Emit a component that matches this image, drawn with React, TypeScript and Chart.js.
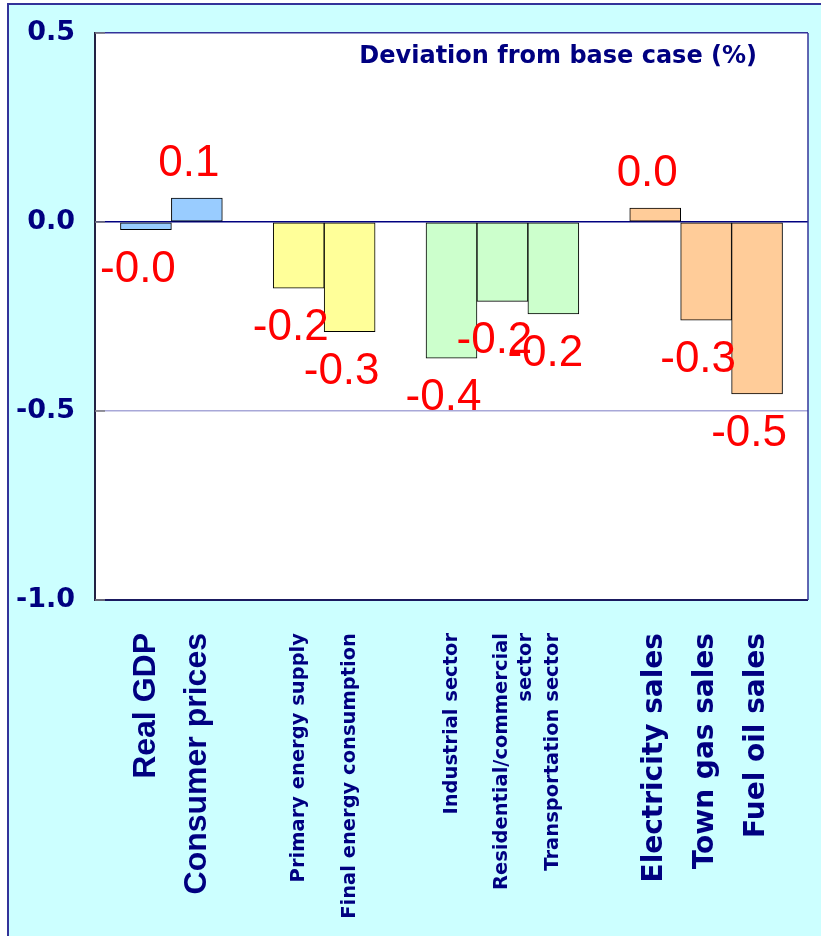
import React, { useEffect, useRef } from "react";
import { Chart, registerables } from "chart.js";

Chart.register(...registerables);

// ---- data ----
const categories: (string | string[])[] = [
  "",
  "Real GDP",
  "Consumer prices",
  "",
  "Primary energy supply",
  "Final energy consumption",
  "",
  "Industrial sector",
  ["Residential/commercial", "sector"],
  "Transportation sector",
  "",
  "Electricity sales",
  "Town gas sales",
  "Fuel oil sales",
  "",
];

const deviation: (number | null)[] = [
  null, -0.02, 0.063, null, -0.175, -0.29, null, -0.36, -0.21, -0.243, null, 0.037, -0.26, -0.455, null,
];

const barColors: string[] = [
  "#ffffff", "#99CCFF", "#99CCFF", "#ffffff", "#FFFF99", "#FFFF99", "#ffffff",
  "#CCFFCC", "#CCFFCC", "#CCFFCC", "#ffffff", "#FFCC99", "#FFCC99", "#FFCC99", "#ffffff",
];

const yMin = -1.0;
const yMax = 0.5;
const yStep = 0.5;
const chartTitle = "Deviation from base case (%)";

const bigArialLabels = ["Real GDP", "Consumer prices"];
const bigLabels = ["Electricity sales", "Town gas sales", "Fuel oil sales"];

const NAVY = "#000080";

const panelPlugin = {
  id: "panelPlugin",
  beforeDraw(chart: any) {
    const { ctx, width, height, chartArea: a } = chart;
    ctx.save();
    ctx.fillStyle = "#ffffff";
    ctx.fillRect(0, 0, width, height);
    ctx.fillStyle = "#CCFFFF";
    ctx.fillRect(9, 5, width - 9, height - 5);
    ctx.strokeStyle = "#333399";
    ctx.lineWidth = 2;
    ctx.beginPath();
    ctx.moveTo(8, height);
    ctx.lineTo(8, 4);
    ctx.lineTo(width, 4);
    ctx.stroke();
    ctx.fillStyle = "#ffffff";
    ctx.fillRect(a.left, a.top, a.right - a.left, a.bottom - a.top);
    ctx.restore();
  },
  afterDraw(chart: any) {
    const { ctx, chartArea: a } = chart;
    ctx.save();
    ctx.strokeStyle = "#333399";
    ctx.lineWidth = 1.5;
    ctx.beginPath();
    ctx.moveTo(a.right, a.top);
    ctx.lineTo(a.right, a.bottom);
    ctx.stroke();
    // short inward tick marks on the value axis
    const ys = chart.scales.y;
    ctx.strokeStyle = "#808080";
    ctx.lineWidth = 1.5;
    ys.ticks.forEach((t: any) => {
      const py = ys.getPixelForValue(t.value);
      ctx.beginPath();
      ctx.moveTo(a.left, py);
      ctx.lineTo(a.left + 10, py);
      ctx.stroke();
    });
    ctx.fillStyle = NAVY;
    ctx.font = 'bold 24px "DejaVu Sans"';
    ctx.textAlign = "right";
    ctx.textBaseline = "alphabetic";
    ctx.fillText(chartTitle, a.right - 51, a.top + 30);
    ctx.restore();
  },
};

const valueLabelPlugin = {
  id: "valueLabelPlugin",
  afterDatasetsDraw(chart: any) {
    const { ctx } = chart;
    const meta = chart.getDatasetMeta(0);
    ctx.save();
    ctx.fillStyle = "#FF0000";
    ctx.font = '44px "Liberation Sans"';
    ctx.textAlign = "center";
    ctx.textBaseline = "alphabetic";
    meta.data.forEach((bar: any, i: number) => {
      const v = deviation[i];
      if (v === null || v === undefined) return;
      const text = v.toFixed(1);
      const x = bar.x - 8;
      const y = v >= 0 ? bar.y - 22 : bar.y + 52;
      ctx.fillText(text, x, y);
    });
    ctx.restore();
  },
};

export default function App() {
  const canvasRef = useRef<HTMLCanvasElement | null>(null);

  useEffect(() => {
    if (!canvasRef.current) return;
    const chart = new Chart(canvasRef.current, {
      type: "bar",
      data: {
        labels: categories,
        datasets: [
          {
            data: deviation,
            backgroundColor: barColors,
            borderColor: "#000000",
            borderWidth: 1,
            borderSkipped: false,
            barPercentage: 1,
            categoryPercentage: 1,
          },
        ],
      },
      options: {
        animation: false,
        responsive: false,
        devicePixelRatio: 1,
        layout: { padding: { top: 33, right: 13, left: 0, bottom: 0 } },
        plugins: {
          legend: { display: false },
          tooltip: { enabled: false },
          title: { display: false },
        },
        scales: {
          x: {
            type: "category",
            offset: false,
            grid: { display: false, drawTicks: false },
            border: { display: false },
            afterFit: (scale: any) => {
              scale.height = 336;
              scale.paddingLeft = 0;
              scale.paddingRight = 0;
              scale.paddingTop = 0;
              scale.paddingBottom = 0;
            },
            ticks: {
              autoSkip: false,
              minRotation: 90,
              maxRotation: 90,
              padding: 33,
              color: NAVY,
              font: (c: any) => {
                const lab = categories[c.index];
                const s = Array.isArray(lab) ? lab.join(" ") : lab;
                if (bigArialLabels.includes(s)) return { family: "Liberation Sans", size: 32, weight: "bold" };
                if (bigLabels.includes(s)) return { family: "DejaVu Sans", size: 28, weight: "bold" };
                return { family: "DejaVu Sans", size: 19.5, weight: "bold" };
              },
            },
          },
          y: {
            min: yMin,
            max: yMax,
            afterFit: (scale: any) => {
              scale.width = 95;
              scale.paddingLeft = 0;
              scale.paddingRight = 0;
              scale.paddingTop = 0;
              scale.paddingBottom = 0;
            },
            border: { display: true, color: "#222244", width: 2 },
            grid: {
              drawTicks: false,
              color: (c: any) => {
                const v = c.tick ? c.tick.value : 0;
                if (Math.abs(v) < 1e-9) return NAVY;
                if (Math.abs(v - yMax) < 1e-9) return "#333399";
                if (Math.abs(v - yMin) < 1e-9) return "#1a1a60";
                return "#a8a8d8";
              },
              lineWidth: (c: any) => {
                const v = c.tick ? c.tick.value : 0;
                if (Math.abs(v - yMin) < 1e-9) return 2;
                return 1.5;
              },
            },
            ticks: {
              stepSize: yStep,
              padding: 20,
              color: NAVY,
              font: { family: "DejaVu Sans", size: 27, weight: "bold" },
              callback: (v: any) => Number(v).toFixed(1),
            },
          },
        },
      },
      plugins: [panelPlugin, valueLabelPlugin],
    } as any);
    return () => chart.destroy();
  }, []);

  return (
    <div style={{ position: "absolute", left: 0, top: 0, width: 821, height: 936 }}>
      <canvas ref={canvasRef} width={821} height={936} style={{ display: "block", width: 821, height: 936 }} />
    </div>
  );
}
